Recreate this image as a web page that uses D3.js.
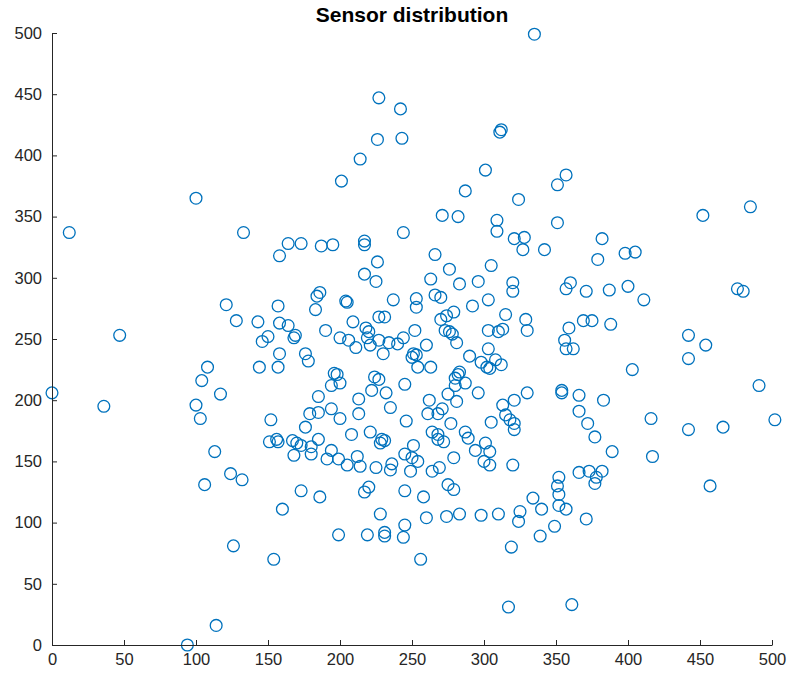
<!DOCTYPE html>
<html>
<head>
<meta charset="utf-8">
<script src="https://cdn.jsdelivr.net/npm/d3@7"></script>
<style>
  body { margin: 0; background: #fff; }
  #chart text { font-family: "Liberation Sans", Arial, sans-serif; }
</style>
</head>
<body>
<div id="chart"></div>
<script>
// Sensor positions
const sensorX = [
  335, 227, 242, 226, 243, 214, 312, 311, 301, 201, 357, 351, 287, 100, 485, 452, 271, 282, 309, 309,
  324, 351, 12, 133, 244, 164, 173, 187, 195, 158, 217, 217, 266, 321, 328, 327, 342, 382, 379, 398,
  405, 226, 305, 276, 217, 225, 263, 283, 296, 320, 320, 357, 360, 371, 387, 400, 411, 476, 480,
  186, 184, 183, 205, 204, 121, 157, 128, 143, 158, 164, 237, 253, 253, 266, 270, 303, 292, 279, 274,
  270, 315, 329, 209, 227, 231, 218, 220, 219, 252, 190, 169, 168, 146, 150, 47, 244, 273, 276, 278,
  303, 310, 313, 330, 359, 369, 375, 388, 442,
  200, 206, 211, 221, 227, 234, 230, 240, 260, 251, 250, 253, 254, 263, 281, 290, 303, 298, 302, 304,
  308, 312, 356, 357, 362, 454, 442, 403, 491, 176, 178, 158, 144, 157, 108, 104, 117, 100, 103, 0,
  36, 196, 198, 194, 200, 224, 227, 222, 232, 245, 213, 213, 235, 246, 185, 179, 185, 194, 200, 176,
  208, 221, 262, 261, 268, 271, 275, 281, 277, 280, 282, 287, 283, 280, 296, 313, 321, 330, 305, 315,
  318, 321, 321, 354, 354, 366, 383, 366, 372, 377, 416, 442, 466, 502,
  152, 151, 156, 157, 167, 170, 173, 168, 185, 180, 180, 194, 191, 199, 205, 212, 214, 225, 229, 231,
  228, 236, 235, 245, 251, 250, 254, 249, 264, 268, 268, 272, 287, 289, 301, 304, 294, 300, 304, 279,
  264, 269, 320, 275, 279, 113, 124, 132, 106, 173, 186, 217, 220, 245, 258, 160, 228, 245, 244, 260,
  274, 283, 298, 310, 325, 324, 199, 219, 231, 231, 256, 319, 317, 352, 351, 352, 352, 357, 377, 378,
  366, 373, 382, 457, 334, 340, 349, 371, 339, 361, 389, 417, 126, 154, 114, 94
];
const sensorY = [
  499, 447, 438, 413, 414, 397, 421, 419, 388, 379, 384, 376, 371, 365, 358, 351, 351, 350, 347, 338,
  364, 345, 337, 337, 337, 328, 328, 326, 327, 318, 330, 327, 319, 332, 333, 323, 323, 332, 315, 320,
  321, 313, 310, 307, 303, 297, 299, 295, 297, 296, 289, 291, 296, 289, 290, 293, 282, 291, 289,
  288, 285, 274, 280, 281, 278, 277, 265, 264, 263, 261, 282, 283, 276, 286, 284, 282, 277, 272, 269,
  266, 270, 266, 264, 268, 268, 259, 256, 251, 257, 257, 253, 251, 248, 252, 253, 251, 257, 256, 254,
  257, 256, 258, 257, 259, 265, 265, 262, 253,
  251, 249, 243, 245, 249, 247, 238, 246, 245, 238, 235, 237, 227, 227, 247, 236, 242, 231, 227, 226,
  233, 229, 249, 242, 242, 245, 234, 225, 212, 238, 232, 238, 227, 227, 227, 216, 205, 196, 185, 206,
  195, 222, 221, 212, 214, 219, 217, 208, 206, 213, 201, 189, 194, 183, 203, 189, 190, 193, 185, 178,
  172, 174, 200, 189, 189, 193, 205, 199, 181, 212, 221, 214, 223, 218, 206, 196, 200, 206, 182, 188,
  184, 181, 176, 208, 206, 204, 200, 191, 181, 170, 185, 176, 178, 184,
  184, 166, 168, 166, 167, 165, 163, 155, 168, 162, 156, 159, 152, 152, 147, 154, 146, 145, 168, 167,
  165, 148, 143, 156, 163, 153, 150, 142, 174, 172, 168, 166, 174, 169, 165, 158, 159, 150, 147, 153,
  142, 145, 147, 131, 127, 158, 140, 135, 131, 126, 121, 125, 129, 126, 121, 111, 107, 98, 88, 104,
  105, 107, 106, 107, 109, 101, 90, 90, 92, 89, 70, 80, 31, 137, 130, 123, 114, 111, 132, 137,
  141, 142, 142, 130, 120, 111, 97, 103, 89, 33, 158, 154, 81, 70, 16, 0
];
const xTicks = [0, 50, 100, 150, 200, 250, 300, 350, 400, 450, 500];
const yTicks = [0, 50, 100, 150, 200, 250, 300, 350, 400, 450, 500];
const chartTitle = 'Sensor distribution';

const width = 789, height = 679;
const margin = { left: 52, right: 17, top: 33, bottom: 34 };
const axisColor = '#262626';
const markerColor = '#0072BD';

const svg = d3.select('#chart').append('svg')
  .attr('width', width)
  .attr('height', height);

const x = d3.scaleLinear().domain([0, 500]).range([margin.left, width - margin.right]);
const y = d3.scaleLinear().domain([0, 500]).range([height - margin.bottom, margin.top]);

const points = sensorX.map((v, i) => ({ x: v, y: sensorY[i] }));

// Markers
svg.append('g')
  .selectAll('circle')
  .data(points)
  .enter()
  .append('circle')
  .attr('cx', d => x(d.x))
  .attr('cy', d => y(d.y))
  .attr('r', 5.9)
  .attr('fill', 'none')
  .attr('stroke', markerColor)
  .attr('stroke-width', 1.3);

// Axes, ticks pointing inward like MATLAB
const xAxis = svg.append('g')
  .attr('transform', `translate(0,${y(0)})`)
  .call(d3.axisBottom(x).tickValues(xTicks).tickSizeInner(-5).tickSizeOuter(0).tickPadding(8));

const yAxis = svg.append('g')
  .attr('transform', `translate(${x(0)},0)`)
  .call(d3.axisLeft(y).tickValues(yTicks).tickSizeInner(-5).tickSizeOuter(0).tickPadding(10));

[xAxis, yAxis].forEach(g => {
  g.select('.domain').attr('stroke', axisColor).attr('stroke-width', 1);
  g.selectAll('.tick line').attr('stroke', axisColor);
  g.selectAll('.tick text')
    .attr('fill', axisColor)
    .style('font-size', '16.5px');
});

// Title
svg.append('text')
  .attr('x', (x(0) + x(500)) / 2)
  .attr('y', 22)
  .attr('text-anchor', 'middle')
  .attr('fill', '#000')
  .style('font-size', '21px')
  .style('font-weight', 'bold')
  .text(chartTitle);
</script>
</body>
</html>
